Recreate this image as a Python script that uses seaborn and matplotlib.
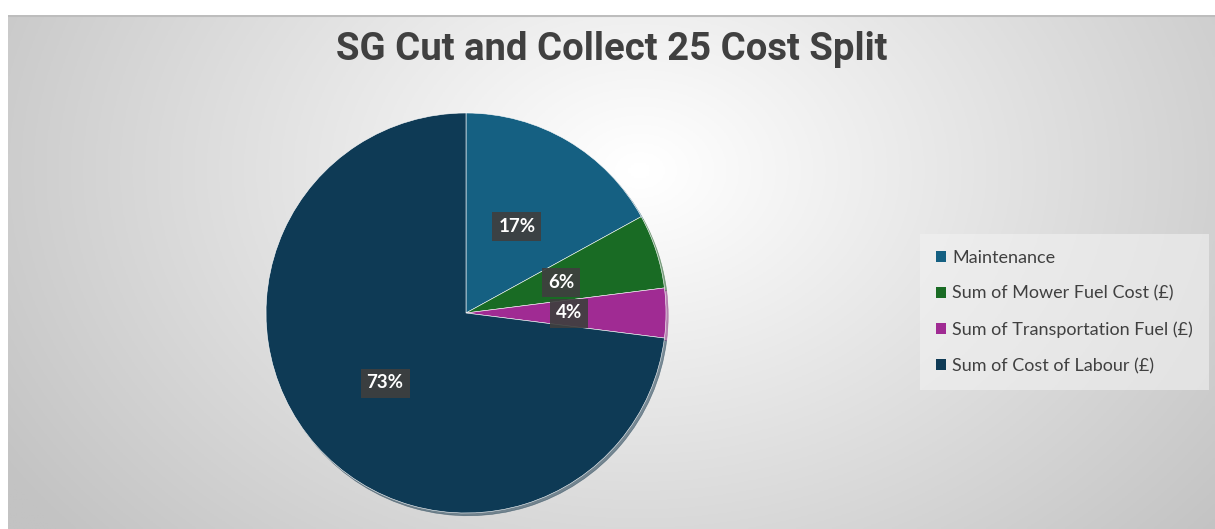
import numpy as np
import matplotlib
matplotlib.use("Agg")
import matplotlib.pyplot as plt
import seaborn as sns
from matplotlib.patches import Rectangle

categories = ["Maintenance", "Sum of Mower Fuel Cost (£)",
              "Sum of Transportation Fuel (£)", "Sum of Cost of Labour (£)"]
shares = [17, 6, 4, 73]
colors = ["#156082", "#196B24", "#A02B93", "#0E3A55"]
title = "SG Cut and Collect 25 Cost Split"

sns.set_theme(style="white")
plt.rcParams['font.family'] = ['Lato', 'DejaVu Sans']

W, H = 1215, 529
fig = plt.figure(figsize=(W / 100, H / 100), dpi=100)
fig.patch.set_facecolor("white")

# background radial gradient (chart area)
x0, y0 = 8, 15
bg = fig.add_axes([x0 / W, 0, (W - x0) / W, (H - y0) / H])
bg.set_axis_off()
xs = np.linspace(x0, W, 400)
ys = np.linspace(y0, H, 200)
X, Y = np.meshgrid(xs, ys)
r = np.sqrt(((X - 640) / 620) ** 2 + ((Y - 170) / 460) ** 2)
v = np.clip(256 - 50 * r, 195, 255) / 255.0
img = np.dstack([v, v, v])
bg.imshow(img, extent=[0, 1, 0, 1], aspect="auto", origin="upper")
bg.set_xlim(0, 1)
bg.set_ylim(0, 1)
bg.plot([0, 1], [0.998, 0.998], color="#bdbdbd", lw=1.5)

# title
fig.text(612 / W, 1 - 50 / H, title, ha="center", va="center",
         fontsize=27.5, fontweight="bold", color="#404040",
         family=["Roboto", "DejaVu Sans"])

# pie
cx, cy, R = 466, 313, 200
ax = fig.add_axes([(cx - R) / W, (H - cy - R) / H, 2 * R / W, 2 * R / H])
ax.set_axis_off()
wedges, texts, autotexts = ax.pie(
    shares, colors=colors, startangle=90, counterclock=False,
    autopct=lambda p: f"{p:.0f}%", pctdistance=0.5, radius=1,
    wedgeprops=dict(edgecolor="white", linewidth=0.4),
    shadow=dict(ox=0.008, oy=-0.01, shade=0.2),
)
ax.set_xlim(-1.0, 1.0)
ax.set_ylim(-1.0, 1.0)
ax.set_aspect("equal")
for t in autotexts:
    t.set_color("white")
    t.set_fontweight("bold")
    t.set_fontsize(13.5)
    t.set_bbox(dict(boxstyle="square,pad=0.32", facecolor="#3f3f3f",
                    edgecolor="none", alpha=0.92))
autotexts[3].set_position((-0.405, -0.35))
autotexts[2].set_position((0.515, 0.0))

# legend
handles = [Rectangle((0, 0), 1, 1, facecolor=c, edgecolor="none") for c in colors]
leg = fig.legend(handles, categories, loc="center left",
                 bbox_to_anchor=(925 / W, 1 - 312 / H), frameon=True,
                 fontsize=13, handlelength=0.55, handleheight=0.55,
                 handletextpad=0.35, labelspacing=1.1, borderpad=0.6,
                 borderaxespad=0, labelcolor="#404040")
leg.get_frame().set_facecolor("#f2f2f2")
leg.get_frame().set_alpha(0.6)
leg.get_frame().set_edgecolor("none")
leg.get_frame().set_boxstyle("square")

fig.savefig("out.png", dpi=100, facecolor="white")
